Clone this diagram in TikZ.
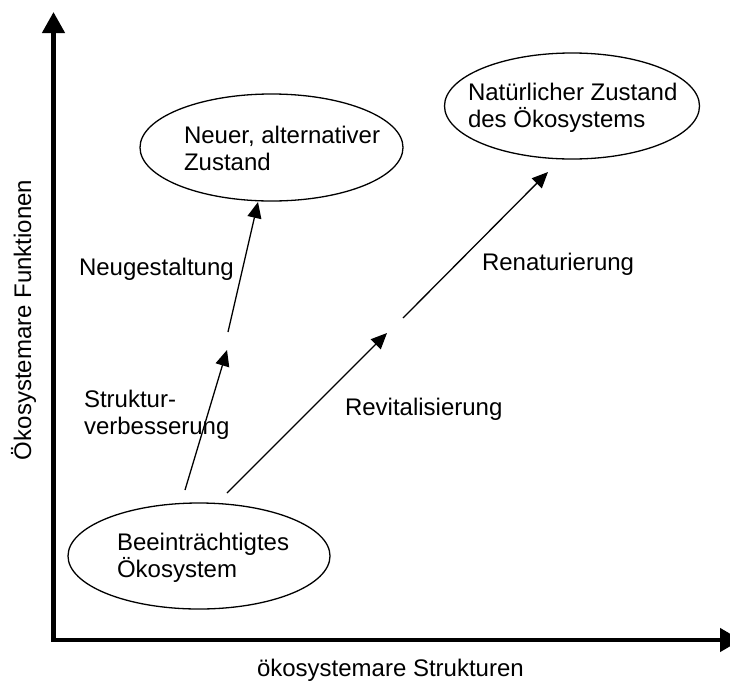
\documentclass[tikz,border=0pt]{standalone}
\usepackage{fontspec}
\setmainfont{Liberation Sans}
\usetikzlibrary{arrows.meta,shapes.geometric}
\begin{document}
\begin{tikzpicture}[x=1pt,y=-1pt,
  every node/.style={font=\fontsize{24}{27}\selectfont, inner sep=0pt, outer sep=0pt},
  oval/.style={ellipse, draw, line width=1.3pt},
  lbl/.style={anchor=base west, align=left},
  axis/.style={line width=4.5pt, line join=miter,
     {Triangle[length=21pt,width=22pt]}-{Triangle[length=21pt,width=23pt]}},
  conn/.style={line width=1.3pt, -{Triangle[length=16pt,width=14pt]}}]
\useasboundingbox (0,0) rectangle (730,686);
\clip (0,0) rectangle (730,686);
% axes
\coordinate (ytop) at (53.5,12);
\coordinate (corner) at (53.5,640);
\coordinate (xend) at (741,640);
\draw[axis] (ytop) -- (corner) -- (xend);
% ellipses
\node[oval, minimum width=263pt, minimum height=107pt] (alt) at (271.5,147.5) {};
\node[oval, minimum width=255pt, minimum height=106pt] (nat) at (572,106) {};
\node[oval, minimum width=262pt, minimum height=106pt] (bee) at (199,556) {};
% (base anchor of a two-line node is the baseline of its last line)
\node[lbl] (altT) at (184,170) {Neuer, alternativer\\Zustand};
\node[lbl] (natT) at (468,127) {Natürlicher Zustand\\des Ökosystems};
\node[lbl] (beeT) at (117,577) {Beeinträchtigtes\\Ökosystem};
% labels
\node[lbl] (neu) at (79,275) {Neugestaltung};
\node[lbl] (str) at (84,434) {Struktur-\\verbesserung};
\node[lbl] (rev) at (345,415) {Revitalisierung};
\node[lbl] (ren) at (482,270) {Renaturierung};
\node[lbl] (xl) at (257,676) {ökosystemare Strukturen};
\node[lbl, rotate=90] (yl) at (31,460) {Ökosystemare Funktionen};
% connector points
\coordinate (s1) at (185,490);
\coordinate (m1) at (227,350);
\coordinate (m1b) at (228,332);
\coordinate (e1) at (258,202);
\coordinate (s2) at (227,493);
\coordinate (m2) at (387,333);
\coordinate (m2b) at (403,318);
\coordinate (e2) at (548,172);
\draw[conn] (s1) -- (m1);
\draw[conn] (m1b) -- (e1);
\draw[conn] (s2) -- (m2);
\draw[conn] (m2b) -- (e2);
\end{tikzpicture}
\end{document}
